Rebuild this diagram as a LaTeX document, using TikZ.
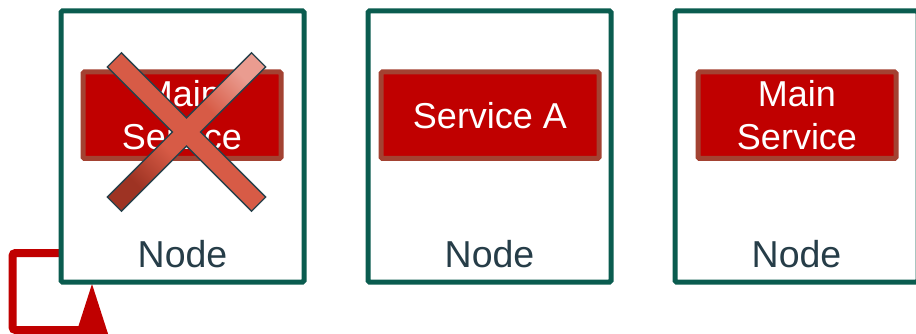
\documentclass[tikz,border=0pt]{standalone}
\usepackage{fontspec}
\setmainfont{Liberation Sans}
\usetikzlibrary{calc}
\definecolor{hostline}{HTML}{0A5C4F}
\definecolor{svcfill}{HTML}{C00000}
\definecolor{svcline}{HTML}{A34232}
\definecolor{labeltext}{HTML}{263D48}
\definecolor{linkred}{HTML}{C00000}
\definecolor{crossdark}{HTML}{9E3323}
\definecolor{crossmid}{HTML}{D75B46}
\definecolor{crosslight}{HTML}{EA9C90}
\definecolor{crossedge}{HTML}{27414B}
% dark at one end, a long flat orange-red middle, light at the other end
\pgfdeclarehorizontalshading{crossfade}{100bp}{color(0bp)=(crossdark);
  color(27bp)=(crossdark); color(42bp)=(crossmid); color(60bp)=(crossmid);
  color(75bp)=(crosslight); color(100bp)=(crosslight)}
\tikzset{
  host/.style={draw=hostline, line width=5pt, fill=white, rounded corners=1.5pt,
    minimum width=243pt, minimum height=271pt, inner sep=0pt},
  svc/.style={draw=svcline, fill=svcfill, line width=5pt, rounded corners=1.5pt,
    minimum height=86.5pt, inner sep=0pt, text=white, align=center,
    font=\fontsize{36}{43}\selectfont},
  hostlabel/.style={anchor=base, text=labeltext, inner sep=0pt,
    font=\fontsize{37.5}{45}\selectfont},
  link/.style={draw=linkred, line width=8pt, rounded corners=3pt}
}
\begin{document}
\begin{tikzpicture}[x=1pt, y=-1pt]
\useasboundingbox (0,0) rectangle (916,334);
\clip (0,0) rectangle (916,334);

% restart link from the failed host back to itself
\coordinate (bendtop) at (12.5,253);
\coordinate (bendlow) at (12.5,330);
\coordinate (tip) at (92,284);
\draw[link] (61,253) -- (bendtop) -- (bendlow) -- (tip |- bendlow);
\fill[linkred] (tip) -- (74,340) -- (110,340) -- cycle;

% hosts
\node[host] (b1) at (182.5,146.5) {};
\node[host] (b2) at (489.5,146.5) {};
\node[host] (b3) at (796.5,146.5) {};

% services
\node[svc, minimum width=198pt] (s1) at (182,115.25) {Main\\Service};
\node[svc, minimum width=218pt] (s2) at (490,115.25) {Service A};
\node[svc, minimum width=198pt] (s3) at (797,115.25) {Main\\Service};

% host labels
\node[hostlabel] (n1) at (182.5,267) {Node};
\node[hostlabel] (n2) at (489.5,267) {Node};
\node[hostlabel] (n3) at (796.5,267) {Node};

% cross over the failed service: darker towards the lower left
\shade[shading=crossfade, shading angle=45, draw=crossedge, line width=1.3pt,
  line join=miter]
  (251.55,211.2) -- (265.7,197.05) -- (200.64,132) -- (265.7,66.95)
  -- (251.55,52.8) -- (186.5,117.86) -- (121.45,52.8) -- (107.3,66.95)
  -- (172.36,132) -- (107.3,197.05) -- (121.45,211.2) -- (186.5,146.14) -- cycle;
\end{tikzpicture}
\end{document}
